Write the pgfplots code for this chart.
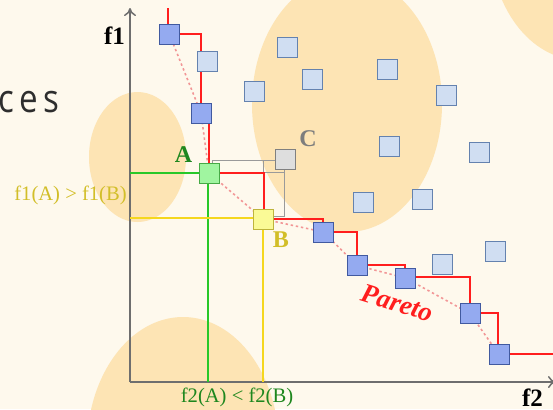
\documentclass[border=0pt]{standalone}
\usepackage{pgfplots}
\pgfplotsset{compat=1.18}
\usetikzlibrary{arrows.meta}
\usepackage{fontspec}
\setmainfont{Liberation Serif}
\newfontfamily\osans{Open Sans}

\definecolor{bg}{RGB}{254,249,237}
\definecolor{blob}{RGB}{253,228,180}
\definecolor{axgray}{RGB}{110,110,110}
\definecolor{pfill}{RGB}{148,170,240}
\definecolor{pdraw}{RGB}{65,90,160}
\definecolor{lfill}{RGB}{208,222,242}
\definecolor{ldraw}{RGB}{100,130,175}
\definecolor{afill}{RGB}{160,245,160}
\definecolor{adraw}{RGB}{70,170,70}
\definecolor{bfill}{RGB}{250,250,150}
\definecolor{bdraw}{RGB}{190,180,60}
\definecolor{cfill}{RGB}{222,222,222}
\definecolor{cdraw}{RGB}{128,128,128}
\definecolor{stepred}{RGB}{255,30,30}
\definecolor{dotred}{RGB}{242,150,150}
\definecolor{lgreen}{RGB}{40,200,40}
\definecolor{lyellow}{RGB}{245,215,30}
\definecolor{tgreen}{RGB}{30,135,30}
\definecolor{tyellow}{RGB}{210,190,40}
\definecolor{tgray}{RGB}{125,125,125}

\begin{document}
\begin{tikzpicture}
\begin{axis}[
    width=276.5pt, height=204.5pt, scale only axis,
    xmin=0, xmax=553, ymin=0, ymax=409, y dir=reverse,
    axis lines=none, clip=true,
    axis background/.style={fill=bg},
    square/.style={only marks, mark=square*, mark size=4.95pt,
        mark options={line width=0.75pt}},
]
% background blobs
\fill[blob] (axis cs:347,104) ellipse [x radius=47.5pt, y radius=64pt];
\fill[blob] (axis cs:137.5,157) ellipse [x radius=24.25pt, y radius=32.5pt];
\fill[blob] (axis cs:183,447) ellipse [x radius=48pt, y radius=65pt];
\fill[blob] (axis cs:580,-60) ellipse [x radius=45pt, y radius=60pt];

% axes
\draw[axgray, line width=0.75pt, -{To[length=4pt,width=6pt]}] (axis cs:130,382) -- (axis cs:130,8);
\draw[axgray, line width=0.75pt, -{To[length=4pt,width=6pt]}] (axis cs:130,382) -- (axis cs:556,382);

% dominance boxes around C
\addplot[cdraw!80, line width=0.5pt] coordinates {(212,163) (212,160) (275,160)};
\addplot[cdraw!80, line width=0.5pt] coordinates {(263,160) (263,209)};
\addplot[cdraw!80, line width=0.5pt] coordinates {(219,172) (284,172)};
\addplot[cdraw!80, line width=0.5pt] coordinates {(284,168) (284,216) (274,216)};

% guide lines for A and B
\addplot[lgreen, line width=1pt] coordinates {(130,173) (200,173)};
\addplot[lgreen, line width=1pt] coordinates {(208,182) (208,382)};
\addplot[lyellow, line width=1pt] coordinates {(130,218) (254,218)};
\addplot[lyellow, line width=1pt] coordinates {(263,228) (263,382)};

% dominated solutions
\addplot[square, mark options={fill=lfill, draw=ldraw}] coordinates {
    (207.5,61) (254,91) (287,47.5) (312,79.5) (387,69) (446,95)
    (389,146) (479,152) (363.5,202) (422,199) (442,264.5) (495,251.5)
};
\addplot[square, mark options={fill=cfill, draw=cdraw}] coordinates {(285,159)};

% Pareto solutions
\addplot[square, mark options={fill=pfill, draw=pdraw}] coordinates {
    (169.5,34.5) (201,113) (323.5,232) (357,265.5) (405.5,278) (470,313.5) (499,354.5)
};

% staircase front
\addplot[stepred, line width=1pt] coordinates {
    (168,8) (168,34) (201,34) (201,113) (209,113) (209,173) (264,173)
    (264,219) (323,219) (323,232) (357,232) (357,265) (405,265) (405,277)
    (470,277) (470,313) (498,313) (498,354) (560,354)
};
\addplot[dotred, line width=0.8pt, dash pattern=on 1.2pt off 1.4pt] coordinates {
    (169.5,34.5) (201,113) (209,173) (263,219) (323.5,232) (357,265.5)
    (405.5,278) (470,313.5) (499,354.5)
};

% A and B
\addplot[square, mark options={fill=afill, draw=adraw}] coordinates {(209,173)};
\addplot[square, mark options={fill=bfill, draw=bdraw}] coordinates {(263,219)};

% labels
\node[font=\fontsize{12.5pt}{14pt}\selectfont\bfseries, inner sep=0] at (axis cs:114.5,36) {f1};
\node[font=\fontsize{12.5pt}{14pt}\selectfont\bfseries, inner sep=0] at (axis cs:532.5,398) {f2};
\node[font=\fontsize{12pt}{14pt}\selectfont\bfseries, text=tgreen, inner sep=0] at (axis cs:183.5,154.5) {A};
\node[font=\fontsize{12pt}{14pt}\selectfont\bfseries, text=tyellow, inner sep=0] at (axis cs:281,240) {B};
\node[font=\fontsize{12pt}{14pt}\selectfont\bfseries, text=tgray, inner sep=0] at (axis cs:308,138.5) {C};
\node[font=\fontsize{10.3pt}{12pt}\selectfont, text=tyellow, inner sep=0] at (axis cs:70.5,195) {f1(A) > f1(B)};
\node[font=\fontsize{10.3pt}{12pt}\selectfont, text=tgreen, inner sep=0] at (axis cs:237,397) {f2(A) < f2(B)};
\node[font=\fontsize{13.5pt}{15pt}\selectfont\bfseries\itshape, text=stepred, rotate=-17, inner sep=0] at (axis cs:397,303) {Pareto};

% clipped slide title
\node[font=\osans\fontsize{19.5pt}{22pt}\selectfont, text=black!82, anchor=base, xscale=0.85, inner sep=0] at (axis cs:6.5,112) {c};
\node[font=\osans\fontsize{19.5pt}{22pt}\selectfont, text=black!82, anchor=base, xscale=0.85, inner sep=0] at (axis cs:29,112) {e};
\node[font=\osans\fontsize{19.5pt}{22pt}\selectfont, text=black!82, anchor=base, xscale=0.85, inner sep=0] at (axis cs:51.5,112) {s};
\end{axis}
\pgfresetboundingbox
\useasboundingbox (current axis.south west) rectangle (current axis.north east);
\end{tikzpicture}
\end{document}
